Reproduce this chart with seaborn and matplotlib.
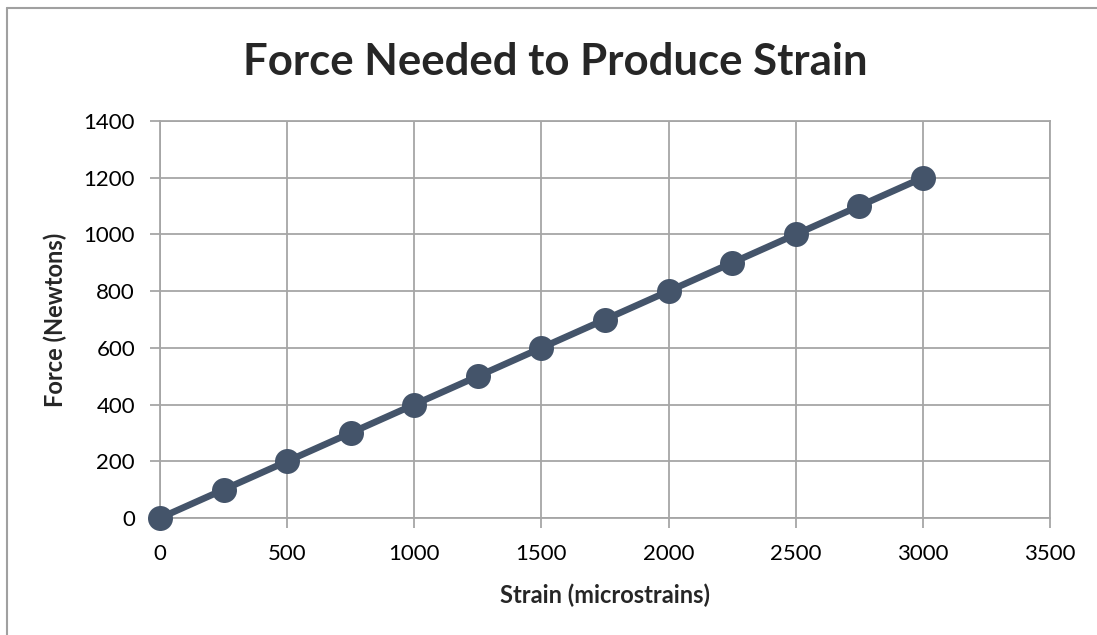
import matplotlib
matplotlib.use("Agg")
import matplotlib.pyplot as plt
import seaborn as sns
import pandas as pd
from matplotlib.lines import Line2D

strain = [0, 250, 500, 750, 1000, 1250, 1500, 1750, 2000, 2250, 2500, 2750, 3000]
force = [0, 100, 200, 300, 400, 500, 600, 700, 800, 900, 1000, 1100, 1200]
x_ticks = [0, 500, 1000, 1500, 2000, 2500, 3000, 3500]
y_ticks = [0, 200, 400, 600, 800, 1000, 1200, 1400]

sns.set_theme(style="white")
plt.rcParams['font.family'] = ['Lato', 'DejaVu Sans']

df = pd.DataFrame({"Strain": strain, "Force": force})

fig = plt.figure(figsize=(10.97, 6.35), dpi=100)
ax = fig.add_axes([160/1097, 1-518/635, (1050-160)/1097, (518-121)/635])

line_color = "#44546A"
grid_color = "#A6A6A6"

sns.lineplot(data=df, x="Strain", y="Force", ax=ax, color=line_color,
             linewidth=4.8, marker="o", markersize=18, markeredgewidth=0,
             clip_on=False, zorder=5)

ax.set_xlim(0, 3500)
ax.set_ylim(0, 1400)
ax.set_xticks(x_ticks)
ax.set_yticks(y_ticks)
ax.grid(True, color=grid_color, linewidth=1.3)
for s in ax.spines.values():
    s.set_color(grid_color)
    s.set_linewidth(1.3)
ax.tick_params(axis="both", which="major", length=7, width=1.3, color=grid_color,
               labelsize=16, labelcolor="black", direction="out", bottom=True, left=True)
ax.tick_params(axis="x", pad=12)
ax.tick_params(axis="y", pad=11)

ax.set_xlabel("Strain (microstrains)", fontsize=17, fontweight="bold", labelpad=14)
ax.set_ylabel("Force (Newtons)", fontsize=17, fontweight="bold", labelpad=12)

fig.text(0.506, 1-62/635, "Force Needed to Produce Strain", ha="center", va="center",
         fontsize=31.5, fontweight="bold")

# outer chart border (top and left visible)
fig.add_artist(Line2D([7/1097, 7/1097], [0, 1-8/635], transform=fig.transFigure,
                      color="#A0A0A0", linewidth=1.5))
fig.add_artist(Line2D([7/1097, 1], [1-8/635, 1-8/635], transform=fig.transFigure,
                      color="#A0A0A0", linewidth=1.5))

fig.savefig("out.png", dpi=100)
